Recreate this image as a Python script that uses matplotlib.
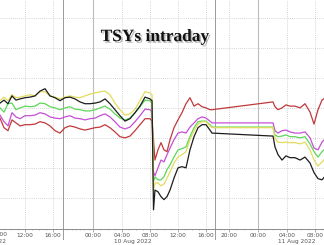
import numpy as np
import matplotlib
matplotlib.use("Agg")
import matplotlib.pyplot as plt
import matplotlib.patheffects as pe
from matplotlib import transforms

# hours since 9 Aug 2022 00:00 (NY time)
t_pre = [8.43, 9.0, 9.57, 10.14, 10.71, 11.29, 12.0, 12.71, 13.43, 14.14, 14.86,
         15.57, 16.2, 16.7, 17.47, 18.63, 19.8, 20.97, 22.13, 23.3, 24.28, 24.97,
         25.66, 26.34, 27.03, 27.72, 28.43, 29.14, 29.86, 30.57, 31.29, 32.0, 32.29]
t_post = [32.5, 32.71, 33.14, 33.57, 34.0, 34.43, 34.86, 35.43, 36.0, 36.57, 37.14,
          37.71, 38.29, 38.86, 39.43, 40.0, 40.44, 40.67,
          50.07, 50.34, 50.76, 51.31, 51.86, 52.43, 53.14, 53.86, 54.57, 55.29,
          55.86, 56.43, 57.0, 57.57]
times = t_pre + t_post

# yield change, bp
black = [0.8, 1.3, 0.7, 2.0, 1.3, 1.5, 1.7, 1.8, 2.0, 2.8, 3.2, 2.0, 1.7, 1.2, 1.7, 1.8,
         1.5, 1.0, 0.7, 0.7, 0.8, 1.0, 1.5, 0.7, -0.3, -1.3, -2.2, -1.8, -0.8, 0.3, 1.8, 1.5, 1.2,
         -17.0, -13.7, -14.0, -14.8, -15.3, -14.8, -13.7, -11.7, -10.0, -9.8, -10.0, -7.0,
         -4.8, -3.3, -2.8, -2.8, -3.7, -4.2,
         -4.7, -6.5, -7.8, -8.7, -8.0, -8.3, -8.3, -8.7, -8.2, -9.2, -10.8, -11.8, -12.0, -11.2]
yellow = [1.2, 1.8, 1.2, 2.2, 1.7, 1.8, 2.0, 2.2, 2.0, 2.7, 2.7, 2.0, 1.8, 1.5, 1.8, 2.0,
          1.8, 1.7, 2.0, 2.3, 2.5, 2.7, 2.8, 2.2, 0.8, -0.3, -1.2, -1.0, -0.2, 1.2, 2.7, 2.5, 2.2,
          -13.7, -12.5, -12.5, -13.0, -12.7, -11.7, -10.7, -9.2, -8.2, -7.8, -7.3, -5.3,
          -3.8, -2.7, -2.3, -2.3, -3.0, -3.3,
          -3.3, -5.0, -5.7, -5.8, -5.7, -5.8, -5.8, -6.0, -5.7, -7.0, -8.7, -9.7, -9.0, -8.3]
green = [0.0, -0.7, 0.7, 0.8, -0.3, 0.0, 0.3, 0.2, 0.3, 0.8, 0.7, 0.2, 0.0, -0.3, 0.0, 0.2,
         -0.2, -0.3, -0.5, -0.5, -0.3, 0.0, 0.3, -0.2, -1.0, -1.7, -2.0, -1.7, -0.8, 0.2, 1.3, 1.2, 0.8,
         -12.3, -11.5, -12.0, -12.0, -11.5, -10.3, -9.5, -8.2, -7.0, -6.8, -6.5, -4.8,
         -3.3, -2.3, -2.2, -2.2, -2.8, -3.2,
         -3.2, -4.5, -4.8, -4.7, -4.5, -4.8, -4.8, -5.0, -4.8, -6.0, -7.3, -8.2, -7.3, -6.7]
magenta = [-1.2, -2.3, -3.0, -0.8, -1.5, -1.8, -1.3, -1.3, -1.2, -0.8, -1.0, -1.5, -1.7, -1.8,
           -1.5, -1.3, -1.7, -1.8, -2.0, -1.8, -1.7, -1.3, -1.0, -1.5, -2.3, -3.2, -3.5, -3.2,
           -2.3, -1.3, -0.2, -0.3, -0.7,
           -10.7, -11.3, -10.0, -8.7, -9.0, -7.8, -6.7, -5.3, -4.2, -4.0, -4.2, -3.2,
           -2.5, -1.8, -1.5, -1.7, -2.2, -2.5,
           -2.5, -3.8, -4.2, -3.8, -3.7, -4.0, -4.2, -4.2, -4.0, -5.0, -6.7, -7.0, -5.7, -5.0]
red = [-1.7, -3.3, -3.8, -2.0, -2.5, -3.0, -2.8, -2.8, -2.7, -2.3, -2.5, -3.0, -3.8, -4.2,
       -3.3, -3.0, -3.2, -3.5, -3.7, -3.5, -3.3, -3.2, -2.8, -3.3, -4.0, -4.8, -5.0, -4.7,
       -3.8, -2.8, -1.8, -1.8, -2.2,
       -5.3, -8.7, -7.0, -5.8, -7.0, -7.3, -5.3, -3.3, -2.0, -0.8, 0.7, 1.7, 0.3, 0.7, 0.2,
       0.0, -0.3, -0.3,
       1.0, 0.2, -0.3, 0.0, 0.5, 0.3, 0.3, 0.0, 0.7, -0.7, -2.7, -0.3, 1.3, 1.8]

tick_hours = [8, 12, 16, 24, 28, 32, 36, 40, 44, 48, 52, 56]
tick_labels = ["08:00", "12:00", "16:00", "00:00", "04:00", "08:00", "12:00", "16:00",
               "20:00", "00:00", "04:00", "08:00"]
day_hours = [6.9, 29.5, 53.4]
day_labels = ["9 Aug 2022", "10 Aug 2022", "11 Aug 2022"]
session_breaks = [17, 41]
midnights = [24, 48]

# Bloomberg style compressed session axis
brk_h = np.array([0, 8, 12, 16, 17, 24, 28, 32, 36, 40, 41, 44, 48, 52, 56, 64], float)
brk_x = np.array([-59, -3, 25, 53, 63, 93, 122, 150, 178, 206, 215, 229, 258, 287, 315, 371], float)

def fwd(h):
    return np.interp(h, brk_h, brk_x)

def inv(x):
    return np.interp(x, brk_x, brk_h)

fig = plt.figure(figsize=(3.24, 2.45), dpi=100)
ax = fig.add_axes([0, 16 / 245, 1, 229 / 245])
ax.set_xscale("function", functions=(fwd, inv))

for y in range(-15, 16, 5):
    ax.axhline(y, color="#c8c8c8", lw=0.6, ls=(0, (1, 1.5)), zorder=0)
for h in tick_hours:
    if h not in midnights:
        ax.axvline(h, color="#c8c8c8", lw=0.6, ls=(0, (1, 1.5)), zorder=0)
for h in midnights:
    ax.axvline(h, color="#bdbdbd", lw=0.8, zorder=0)
for h in session_breaks:
    ax.axvline(h, ymin=-0.045, ymax=1, color="#9a9a9a", lw=0.7, zorder=0, clip_on=False)

t = np.array(times)
ax.plot(t, red, color="#c0393b", lw=0.9)
ax.plot(t, magenta, color="#c64fd6", lw=0.9)
ax.plot(t, green, color="#5ed65a", lw=0.9)
ax.plot(t, yellow, color="#e2dc5c", lw=0.9)
ax.plot(t, black, color="#1c1c1c", lw=0.9)

for s in ["top", "left", "right"]:
    ax.spines[s].set_visible(False)
ax.spines["bottom"].set_color("#8c8c8c")
ax.spines["bottom"].set_linewidth(0.7)
ax.set_yticks([])
ax.set_xticks(tick_hours)
ax.set_xticklabels(tick_labels)
ax.set_xticks(np.arange(8, 60, 1), minor=True)
ax.tick_params(axis="x", which="major", length=2, width=0.5, color="#8c8c8c",
               labelsize=4.2, labelcolor="#555555", pad=1)
ax.tick_params(axis="x", which="minor", length=1, width=0.4, color="#8c8c8c")

# limits last, set_xticks would widen them otherwise
ax.set_xlim(inv(0), inv(324))
ax.set_ylim(-20.2, 18.0)

trans = transforms.blended_transform_factory(ax.transData, ax.transAxes)
# first tick sits just left of the frame, only its tail shows
ax.text(8.35, -0.011, tick_labels[0], transform=trans, ha="center", va="top",
        fontsize=4.2, color="#555555", clip_on=False)
for h, lab in zip(day_hours, day_labels):
    ax.text(h, -0.055, lab, transform=trans, ha="center", va="center",
            fontsize=4.2, color="#555555", clip_on=False)

ax.text(0.478, 0.838, "TSYs intraday", transform=ax.transAxes, ha="center", va="center",
        fontsize=12.5, fontweight="bold", family="Liberation Serif", color="#111111",
        path_effects=[pe.withSimplePatchShadow(offset=(1.2, -1.2), shadow_rgbFace="#888888", alpha=0.6)])

fig.savefig("out.png", dpi=100)
